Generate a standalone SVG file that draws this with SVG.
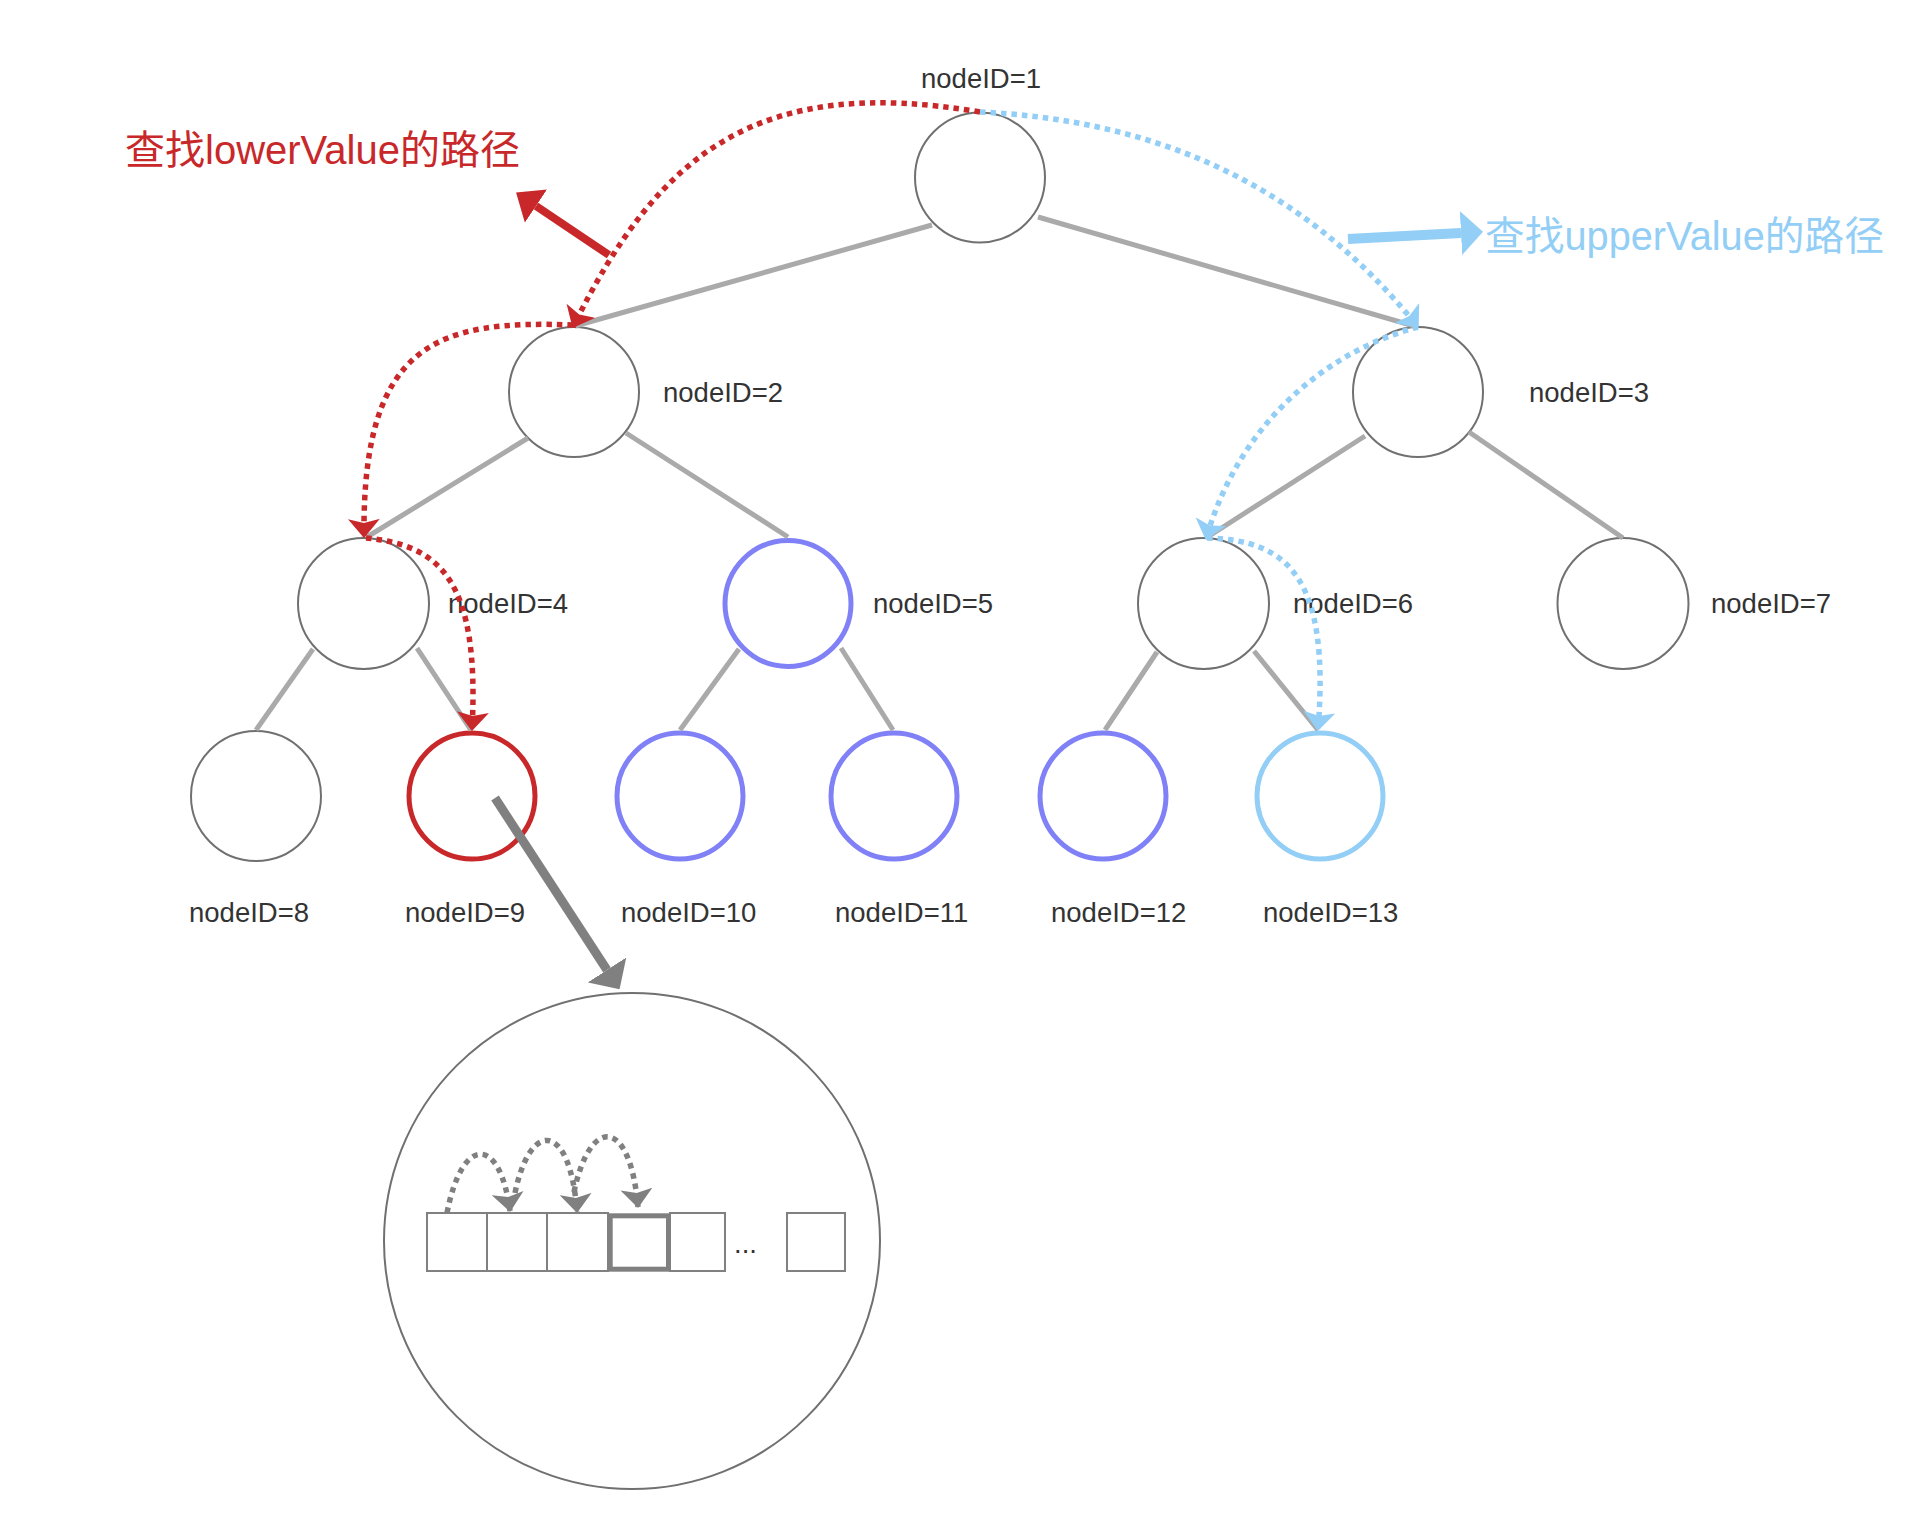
<svg xmlns="http://www.w3.org/2000/svg" width="1908" height="1520" viewBox="0 0 1908 1520">
<style>
.bg{fill:#ffffff}
.nd{fill:#ffffff;stroke:#707070;stroke-width:2}
.nd-red{fill:#ffffff;stroke:#C9282A;stroke-width:5}
.nd-pur{fill:#ffffff;stroke:#8080F7;stroke-width:5}
.nd-blu{fill:#ffffff;stroke:#92CEF5;stroke-width:5}
.lbl{font-family:"Liberation Sans",Arial,Helvetica,sans-serif;font-size:27.5px;fill:#333333}
.ttl{font-family:"Liberation Sans",Arial,"Noto Sans CJK SC",sans-serif;font-size:40px}
.edge{stroke:#AAAAAA;stroke-width:5;fill:none}
.dot{fill:none;stroke-width:5.5;stroke-dasharray:5.5 5}
.box{fill:#ffffff;stroke:#808080;stroke-width:2}
</style>
<defs>
<marker id="aRed" markerUnits="userSpaceOnUse" viewBox="0 0 19 32" markerWidth="19" markerHeight="32" refX="18" refY="16" orient="auto"><path d="M0,0 L19,16 L0,32 L4,16 z" fill="#C9282A"/></marker>
<marker id="aBlue" markerUnits="userSpaceOnUse" viewBox="0 0 19 32" markerWidth="19" markerHeight="32" refX="18" refY="16" orient="auto"><path d="M0,0 L19,16 L0,32 L4,16 z" fill="#92CEF5"/></marker>
<marker id="aGray" markerUnits="userSpaceOnUse" viewBox="0 0 19 32" markerWidth="19" markerHeight="32" refX="18" refY="16" orient="auto"><path d="M0,0 L19,16 L0,32 L4,16 z" fill="#808080"/></marker>
<marker id="bRed" markerUnits="userSpaceOnUse" viewBox="0 0 24 40" markerWidth="24" markerHeight="40" refX="0" refY="20" orient="auto"><path d="M0,0 L24,20 L0,40 z" fill="#C9282A"/></marker>
<marker id="bBlue" markerUnits="userSpaceOnUse" viewBox="0 0 22 44" markerWidth="22" markerHeight="44" refX="0" refY="22" orient="auto"><path d="M0,0 L22,22 L0,44 z" fill="#92CEF5"/></marker>
<marker id="bGray" markerUnits="userSpaceOnUse" viewBox="0 0 23 46" markerWidth="23" markerHeight="46" refX="0" refY="23" orient="auto"><path d="M0,0 L23,23 L0,46 z" fill="#808080"/></marker>
</defs>
<rect class="bg" x="0" y="0" width="1908" height="1520"/>

<g id="titles">
<text class="ttl" x="125" y="164" fill="#C9282A" textLength="395" lengthAdjust="spacingAndGlyphs">查找lowerValue的路径</text>
<text class="ttl" x="1485" y="250" fill="#92CEF5" textLength="399" lengthAdjust="spacingAndGlyphs">查找upperValue的路径</text>
</g>

<g id="node1"><circle class="nd" cx="980" cy="177.5" r="65"/><text class="lbl" x="921" y="88">nodeID=1</text></g>
<g id="node2"><circle class="nd" cx="574" cy="392" r="65"/><text class="lbl" x="663" y="402">nodeID=2</text></g>
<g id="node3"><circle class="nd" cx="1418" cy="392" r="65"/><text class="lbl" x="1529" y="402">nodeID=3</text></g>
<g id="node4"><circle class="nd" cx="363.5" cy="603.5" r="65.5"/><text class="lbl" x="448" y="613">nodeID=4</text></g>
<g id="node5"><circle class="nd-pur" cx="788" cy="603.5" r="63"/><text class="lbl" x="873" y="613">nodeID=5</text></g>
<g id="node6"><circle class="nd" cx="1203.5" cy="603.5" r="65.5"/><text class="lbl" x="1293" y="613">nodeID=6</text></g>
<g id="node7"><circle class="nd" cx="1623" cy="603.5" r="65.5"/><text class="lbl" x="1711" y="613">nodeID=7</text></g>
<g id="node8"><circle class="nd" cx="256" cy="796" r="65"/><text class="lbl" x="189" y="922">nodeID=8</text></g>
<g id="node9"><circle class="nd-red" cx="472" cy="796" r="63"/><text class="lbl" x="405" y="922">nodeID=9</text></g>
<g id="node10"><circle class="nd-pur" cx="680" cy="796" r="63"/><text class="lbl" x="621" y="922">nodeID=10</text></g>
<g id="node11"><circle class="nd-pur" cx="894" cy="796" r="63"/><text class="lbl" x="835" y="922">nodeID=11</text></g>
<g id="node12"><circle class="nd-pur" cx="1103" cy="796" r="63"/><text class="lbl" x="1051" y="922">nodeID=12</text></g>
<g id="node13"><circle class="nd-blu" cx="1320" cy="796" r="63"/><text class="lbl" x="1263" y="922">nodeID=13</text></g>

<g id="detail">
<circle class="nd" cx="632" cy="1241" r="248"/>
<rect class="box" x="427" y="1213" width="60" height="58"/>
<rect class="box" x="487" y="1213" width="60" height="58"/>
<rect class="box" x="547" y="1213" width="61" height="58"/>
<rect class="box" x="670" y="1213" width="55" height="58"/>
<rect x="610.2" y="1215.8" width="58.3" height="53.4" fill="#ffffff" stroke="#808080" stroke-width="5"/>
<rect class="box" x="787" y="1213" width="58" height="58"/>
<text class="lbl" x="734" y="1253" font-size="25">...</text>
</g>

<g id="connectors">
<line class="edge" x1="932" y1="225" x2="575" y2="326"/>
<line class="edge" x1="1038" y1="217" x2="1414" y2="326"/>
<line class="edge" x1="528" y1="438" x2="367" y2="537"/>
<line class="edge" x1="626" y1="433" x2="788" y2="537"/>
<line class="edge" x1="1365" y1="436" x2="1206" y2="538"/>
<line class="edge" x1="1469" y1="432" x2="1623" y2="538"/>
<line class="edge" x1="313" y1="649" x2="256" y2="730"/>
<line class="edge" x1="417" y1="648" x2="471" y2="730"/>
<line class="edge" x1="739" y1="649" x2="680" y2="730"/>
<line class="edge" x1="841" y1="648" x2="893" y2="730"/>
<line class="edge" x1="1157" y1="652" x2="1105" y2="730"/>
<line class="edge" x1="1254" y1="651" x2="1318" y2="730"/>

<path class="dot" stroke="#C9282A" d="M980,112 C760,75 660,150 573,327" marker-end="url(#aRed)"/>
<path class="dot" stroke="#C9282A" d="M573,325 C440,320 362,340 364,537" marker-end="url(#aRed)"/>
<path class="dot" stroke="#C9282A" d="M366,538 C440,545 480,580 472,730" marker-end="url(#aRed)"/>
<path class="dot" stroke="#92CEF5" d="M980,112 C1150,120 1300,180 1418,327" marker-end="url(#aBlue)"/>
<path class="dot" stroke="#92CEF5" d="M1418,327 C1330,350 1240,420 1206,539" marker-end="url(#aBlue)"/>
<path class="dot" stroke="#92CEF5" d="M1207,538 C1290,540 1330,580 1318,730" marker-end="url(#aBlue)"/>

<line x1="609" y1="255" x2="536" y2="206" stroke="#C9282A" stroke-width="8" marker-end="url(#bRed)"/>
<line x1="1348" y1="239" x2="1461" y2="233" stroke="#92CEF5" stroke-width="10" marker-end="url(#bBlue)"/>
<line x1="495" y1="798" x2="607" y2="970" stroke="#808080" stroke-width="9" marker-end="url(#bGray)"/>

<path class="dot" stroke="#808080" d="M447,1213 C462,1135 500,1135 510,1211" marker-end="url(#aGray)"/>
<path class="dot" stroke="#808080" d="M515,1193 C530,1120 570,1120 577,1212" marker-end="url(#aGray)"/>
<path class="dot" stroke="#808080" d="M574,1192 C590,1116 630,1116 638,1207" marker-end="url(#aGray)"/>
</g>
</svg>
